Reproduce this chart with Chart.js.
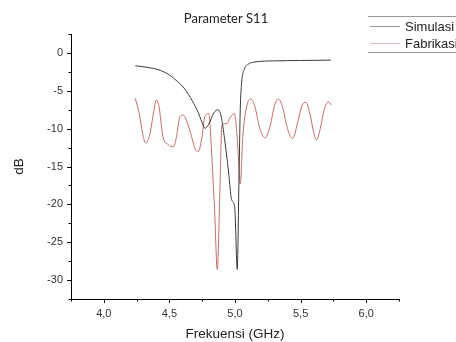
<!DOCTYPE html>
<html lang="id">
<head>
<meta charset="UTF-8">
<title>Parameter S11</title>
<script src="https://cdn.jsdelivr.net/npm/chart.js"></script>
<style>
    body { margin: 0; background: #fff; }
    #wrap { width: 456px; height: 342px; }
</style>
</head>
<body>
<div id="wrap"><canvas id="s11Chart" width="456" height="342"></canvas></div>
<script>
// Simulasi (GHz, dB)
let simFreq = [4.24, 4.33, 4.43, 4.50, 4.55, 4.605, 4.66, 4.71, 4.75, 4.77, 4.80, 4.84, 4.87, 4.895, 4.92, 4.95, 4.97, 4.98, 4.99, 5.00, 5.017, 5.03, 5.04, 5.05, 5.07, 5.10, 5.15, 5.30, 5.50, 5.73];
let simDb   = [-1.7, -1.9, -2.3, -2.9, -3.6, -4.5, -5.9, -7.5, -9.2, -9.95, -9.4, -7.9, -7.5, -8.4, -11.3, -15.6, -19.0, -19.6, -19.8, -21.0, -28.6, -17.0, -7.5, -4.0, -2.2, -1.5, -1.2, -1.05, -1.0, -0.95];

// Fabrikasi (GHz, dB)
let fabFreq = [4.24, 4.27, 4.30, 4.32, 4.35, 4.38, 4.40, 4.42, 4.45, 4.49, 4.53, 4.555, 4.58, 4.605, 4.62, 4.66, 4.70, 4.72, 4.745, 4.77, 4.80, 4.82, 4.845, 4.865, 4.885, 4.90, 4.94, 4.96, 4.995, 5.02, 5.04, 5.06, 5.09, 5.12, 5.15, 5.19, 5.23, 5.27, 5.30, 5.33, 5.36, 5.40, 5.44, 5.48, 5.51, 5.54, 5.57, 5.60, 5.62, 5.65, 5.68, 5.71, 5.735];
let fabDb   = [-6.0, -8.0, -11.0, -11.9, -10.8, -7.8, -6.2, -7.0, -11.0, -12.1, -12.4, -11.0, -8.4, -8.2, -8.5, -10.5, -12.8, -13.0, -11.5, -8.4, -8.0, -12.6, -21.0, -28.6, -18.0, -9.5, -9.3, -8.6, -8.0, -12.0, -17.3, -11.0, -7.0, -6.1, -7.0, -10.0, -11.2, -9.5, -7.0, -6.1, -7.0, -10.0, -11.3, -9.0, -7.0, -6.5, -8.0, -10.5, -11.5, -10.0, -7.5, -6.45, -6.9];

let seriesNames = ["Simulasi", "Fabrikasi"];
let seriesColors = ["#3a3a3a", "#c76b6b"];

let xTicks = [4.0, 4.5, 5.0, 5.5, 6.0];
let yTicks = [0, -5, -10, -15, -20, -25, -30];

function toPoints(xs, ys) {
    return xs.map((x, i) => ({ x: x, y: ys[i] }));
}

// title, legend and tick marks (major + minor)
const decor = {
    id: 'decor',
    afterDraw(chart) {
        const ctx = chart.ctx;
        const xs = chart.scales.x, ys = chart.scales.y;
        const area = chart.chartArea;
        ctx.save();
        ctx.strokeStyle = '#000';
        ctx.lineWidth = 1;
        xs.ticks.forEach(t => {
            const major = xTicks.some(v => Math.abs(v - t.value) < 1e-6);
            const px = Math.round(xs.getPixelForValue(t.value)) + 0.5;
            ctx.beginPath();
            ctx.moveTo(px, area.bottom);
            ctx.lineTo(px, area.bottom + (major ? 4 : 2.5));
            ctx.stroke();
        });
        ys.ticks.forEach(t => {
            const major = yTicks.some(v => Math.abs(v - t.value) < 1e-6);
            const py = Math.round(ys.getPixelForValue(t.value)) + 0.5;
            ctx.beginPath();
            ctx.moveTo(area.left, py);
            ctx.lineTo(area.left - (major ? 4 : 2.5), py);
            ctx.stroke();
        });

        // title
        ctx.fillStyle = '#222';
        ctx.font = '13px Lato, "Open Sans", sans-serif';
        ctx.textAlign = 'center';
        ctx.textBaseline = 'middle';
        ctx.fillText('Parameter S11', 226, 19);

        // legend box (runs off the right edge like the original)
        ctx.strokeStyle = '#9a9a9a';
        ctx.beginPath();
        ctx.moveTo(368, 16.5); ctx.lineTo(460, 16.5);
        ctx.moveTo(368, 52.5); ctx.lineTo(460, 52.5);
        ctx.stroke();
        ctx.font = '13px "Liberation Sans", Arial, sans-serif';
        ctx.textAlign = 'left';
        chart.data.datasets.forEach((ds, i) => {
            const y = 26 + i * 17;
            ctx.strokeStyle = ds.borderColor;
            ctx.globalAlpha = 0.5;
            ctx.beginPath();
            ctx.moveTo(370, y + 0.5);
            ctx.lineTo(400, y + 0.5);
            ctx.stroke();
            ctx.globalAlpha = 1;
            ctx.fillStyle = '#222';
            ctx.fillText(ds.label, 405, y + 1);
        });
        ctx.restore();
    }
};

let ctx1 = document.getElementById('s11Chart').getContext('2d');
let s11Chart = new Chart(ctx1, {
    type: 'scatter',
    data: {
        datasets: [{
            label: seriesNames[0],
            data: toPoints(simFreq, simDb),
            borderColor: seriesColors[0],
            borderWidth: 1,
            showLine: true,
            pointRadius: 0,
            cubicInterpolationMode: 'monotone'
        }, {
            label: seriesNames[1],
            data: toPoints(fabFreq, fabDb),
            borderColor: seriesColors[1],
            borderWidth: 1,
            showLine: true,
            pointRadius: 0,
            cubicInterpolationMode: 'monotone'
        }]
    },
    options: {
        responsive: false,
        animation: false,
        layout: { padding: { left: 0, top: 34, right: 57, bottom: 0 } },
        plugins: {
            legend: { display: false },
            title: { display: false },
            tooltip: { enabled: false }
        },
        scales: {
            x: {
                type: 'linear',
                min: 3.75,
                max: 6.25,
                afterFit: s => { s.height = 43; },
                grid: { display: false, tickLength: 4 },
                border: { display: true, color: '#000', width: 1 },
                ticks: {
                    stepSize: 0.25,
                    autoSkip: false,
                    maxRotation: 0,
                    padding: 4,
                    color: '#333',
                    font: { family: '"Liberation Sans", Arial, sans-serif', size: 11 },
                    callback: v => xTicks.some(t => Math.abs(t - v) < 1e-6) ? v.toFixed(1).replace('.', ',') : ''
                },
                title: {
                    display: true,
                    text: 'Frekuensi (GHz)',
                    color: '#222',
                    font: { family: '"Liberation Sans", Arial, sans-serif', size: 13.5 },
                    padding: { top: 0, bottom: 0 }
                }
            },
            y: {
                type: 'linear',
                min: -32.5,
                max: 2.5,
                afterFit: s => { s.width = 71; },
                grid: { display: false, tickLength: 4 },
                border: { display: true, color: '#000', width: 1 },
                ticks: {
                    stepSize: 2.5,
                    autoSkip: false,
                    padding: 4,
                    color: '#333',
                    font: { family: '"Liberation Sans", Arial, sans-serif', size: 11 },
                    callback: v => yTicks.some(t => Math.abs(t - v) < 1e-6) ? String(v) : ''
                },
                title: {
                    display: true,
                    text: 'dB',
                    color: '#222',
                    font: { family: '"Liberation Sans", Arial, sans-serif', size: 13.5 },
                    padding: { top: 11, bottom: 0 }
                }
            }
        }
    },
    plugins: [decor]
});
</script>
</body>
</html>
